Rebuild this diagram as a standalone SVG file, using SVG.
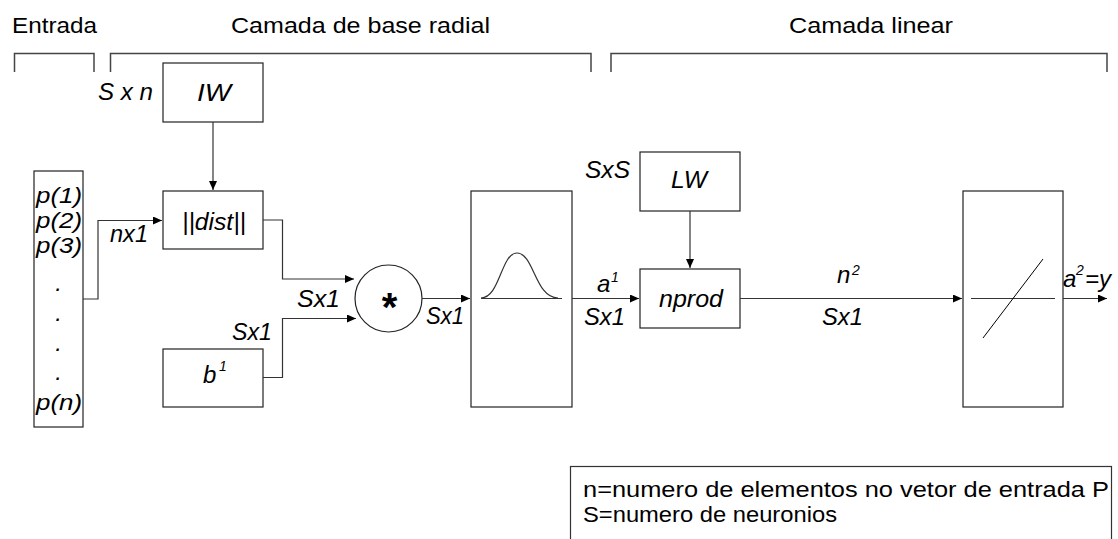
<svg xmlns="http://www.w3.org/2000/svg" width="1118" height="539" viewBox="0 0 1118 539">
<defs>
<style>
text{font-family:"Liberation Sans",Arial,sans-serif;font-size:24px;fill:#000}
.i{font-style:italic}
.p{font-size:22px}
.sup{font-size:14px;font-style:italic}
.box{fill:#fff;stroke:#222;stroke-width:1.2}
.ln{fill:none;stroke:#333;stroke-width:1.2}
.br{fill:none;stroke:#444;stroke-width:1.5}
</style>
<marker id="ah" markerWidth="10" markerHeight="8" refX="9" refY="4" orient="auto" markerUnits="userSpaceOnUse">
<path d="M0,0 L9,4 L0,8 Z" fill="#000"/>
</marker>
</defs>
<rect width="1118" height="539" fill="#fff"/>

<g id="titles">
<text x="12" y="33" style="font-size:22px" textLength="85" lengthAdjust="spacingAndGlyphs">Entrada</text>
<text x="231" y="33" style="font-size:22px" textLength="259" lengthAdjust="spacingAndGlyphs">Camada de base radial</text>
<text x="789" y="33" style="font-size:22px" textLength="164" lengthAdjust="spacingAndGlyphs">Camada linear</text>
<path class="br" d="M14.5,72 V53.5 H94 V72"/>
<path class="br" d="M110.5,72 V53.5 H591 V72"/>
<path class="br" d="M611,72 V53.5 H1107 V72"/>
</g>

<g id="input">
<rect class="box" x="34" y="171" width="49" height="256"/>
<text class="i p" x="36" y="203" textLength="46" lengthAdjust="spacingAndGlyphs">p(1)</text>
<text class="i p" x="36" y="228" textLength="46" lengthAdjust="spacingAndGlyphs">p(2)</text>
<text class="i p" x="36" y="253" textLength="46" lengthAdjust="spacingAndGlyphs">p(3)</text>
<text class="i" x="58.5" y="291" text-anchor="middle">.</text>
<text class="i" x="58.5" y="321" text-anchor="middle">.</text>
<text class="i" x="58.5" y="351" text-anchor="middle">.</text>
<text class="i" x="58.5" y="380" text-anchor="middle">.</text>
<text class="i p" x="36" y="410" textLength="46" lengthAdjust="spacingAndGlyphs">p(n)</text>
</g>

<g id="IW">
<rect class="box" x="163" y="63" width="100" height="59"/>
<text class="i" x="197" y="101" textLength="34" lengthAdjust="spacingAndGlyphs">IW</text>
<text class="i" x="98" y="100" textLength="55" lengthAdjust="spacingAndGlyphs">S x n</text>
</g>

<g id="dist">
<rect class="box" x="163" y="191" width="100" height="58"/>
<text class="i" x="182" y="230" textLength="64" lengthAdjust="spacingAndGlyphs">||dist||</text>
</g>

<g id="bias">
<rect class="box" x="163" y="349" width="100" height="58"/>
<text class="i" x="203" y="383">b</text>
<text class="sup" x="219" y="371">1</text>
</g>

<g id="mult">
<circle cx="388.5" cy="298.5" r="33.5" fill="#fff" stroke="#222" stroke-width="1.2"/>
<text x="389.5" y="321" text-anchor="middle" style="font-size:40px;font-weight:bold">*</text>
</g>

<g id="radbas">
<rect class="box" x="471" y="191" width="101" height="216"/>
<line class="ln" x1="481" y1="298.5" x2="562" y2="298.5"/>
<path class="ln" d="M481,298 C500,298 501,253 517,253 C534,253 535,298 558,298"/>
</g>

<g id="LW">
<rect class="box" x="640" y="152" width="100" height="59"/>
<text class="i" x="671" y="188" textLength="36" lengthAdjust="spacingAndGlyphs">LW</text>
<text class="i" x="585" y="178" textLength="45" lengthAdjust="spacingAndGlyphs">SxS</text>
</g>

<g id="nprod">
<rect class="box" x="640" y="269" width="100" height="59"/>
<text class="i" x="659" y="307" textLength="64" lengthAdjust="spacingAndGlyphs">nprod</text>
</g>

<g id="purelin">
<rect class="box" x="963" y="191" width="100" height="216"/>
<line class="ln" x1="971" y1="298.5" x2="1055" y2="298.5"/>
<line stroke="#000" stroke-width="1" x1="983" y1="338" x2="1043" y2="259"/>
</g>

<g id="connectors">
<path class="ln" d="M83,299 H98 V220.5 H162" marker-end="url(#ah)"/>
<path class="ln" d="M213,122 V190" marker-end="url(#ah)"/>
<path class="ln" d="M263,220 H282.5 V279 H354" marker-end="url(#ah)"/>
<path class="ln" d="M263,377.5 H282.5 V318.5 H356" marker-end="url(#ah)"/>
<path class="ln" d="M422,298.5 H470" marker-end="url(#ah)"/>
<path class="ln" d="M572,298.5 H639" marker-end="url(#ah)"/>
<path class="ln" d="M690,211 V268" marker-end="url(#ah)"/>
<path class="ln" d="M740,298.5 H962" marker-end="url(#ah)"/>
<path class="ln" d="M1063,298.5 H1107" marker-end="url(#ah)"/>
</g>

<g id="labels">
<text class="i" x="110" y="242" textLength="38" lengthAdjust="spacingAndGlyphs">nx1</text>
<text class="i" x="232" y="340" textLength="40" lengthAdjust="spacingAndGlyphs">Sx1</text>
<text class="i" x="297" y="307" textLength="43" lengthAdjust="spacingAndGlyphs">Sx1</text>
<text class="i" x="426" y="324" textLength="38" lengthAdjust="spacingAndGlyphs">Sx1</text>
<text class="i" x="597" y="292">a</text>
<text class="sup" x="611" y="282">1</text>
<text class="i" x="584" y="325" textLength="41" lengthAdjust="spacingAndGlyphs">Sx1</text>
<text class="i" x="837" y="283">n</text>
<text class="sup" x="852" y="275">2</text>
<text class="i" x="822" y="325" textLength="41" lengthAdjust="spacingAndGlyphs">Sx1</text>
<text class="i" x="1063" y="287">a</text>
<text class="sup" x="1076" y="275">2</text>
<text class="i" x="1085" y="287">=y</text>
</g>

<g id="legend">
<rect x="570.5" y="466.5" width="541" height="90" fill="#fff" stroke="#333" stroke-width="1.2"/>
<text x="583" y="497" style="font-size:22px" textLength="526" lengthAdjust="spacingAndGlyphs">n=numero de elementos no vetor de entrada P</text>
<text x="583" y="522" style="font-size:22px" textLength="254" lengthAdjust="spacingAndGlyphs">S=numero de neuronios</text>
</g>
</svg>
